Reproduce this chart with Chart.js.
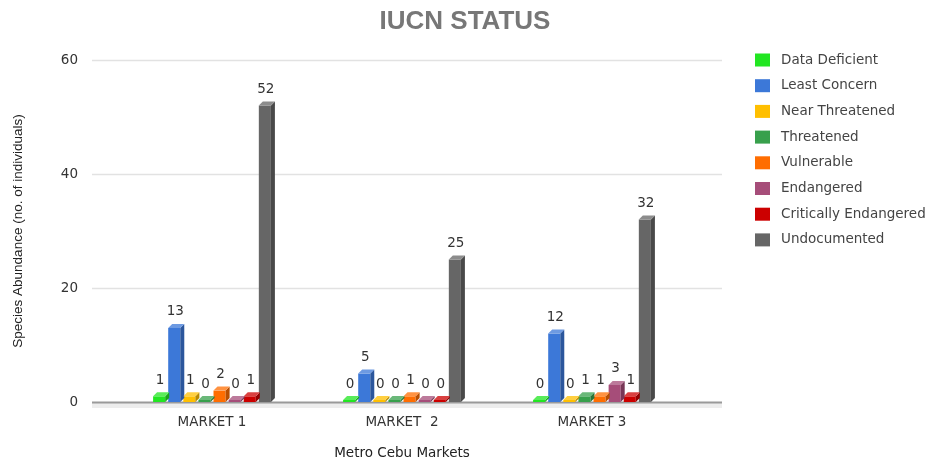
<!DOCTYPE html>
<html lang="en">
<head>
    <meta charset="UTF-8">
    <title>IUCN Status</title>
    <script src="https://cdn.jsdelivr.net/npm/chart.js"></script>
    <style>
        html, body { margin: 0; padding: 0; background: #fff; }
        #chart-container { width: 930px; height: 462px; }
    </style>
</head>
<body>
    <div id="chart-container">
        <canvas id="iucnChart"></canvas>
    </div>

    <script>
        // Data
        const markets = ['MARKET 1', 'MARKET  2', 'MARKET 3'];
        const statuses = ['Data Deficient', 'Least Concern', 'Near Threatened', 'Threatened',
                          'Vulnerable', 'Endangered', 'Critically Endangered', 'Undocumented'];
        const dataDeficient = [1, 0, 0];
        const leastConcern = [13, 5, 12];
        const nearThreatened = [1, 0, 0];
        const threatened = [0, 0, 1];
        const vulnerable = [2, 1, 1];
        const endangered = [0, 0, 3];
        const criticallyEndangered = [1, 0, 1];
        const undocumented = [52, 25, 32];
        const yTicks = [0, 20, 40, 60];

        const series = [dataDeficient, leastConcern, nearThreatened, threatened,
                        vulnerable, endangered, criticallyEndangered, undocumented];
        const colors = ['#22e622', '#3c78d8', '#ffbf00', '#38a04c',
                        '#ff6d01', '#a64d79', '#cc0000', '#666666'];

        const FONT = '"DejaVu Sans", sans-serif';
        const DEPTH = 4;

        function shade(hex, f) {
            const n = parseInt(hex.slice(1), 16);
            let r = (n >> 16) & 255, g = (n >> 8) & 255, b = n & 255;
            if (f < 1) { r *= f; g *= f; b *= f; }
            else { r += (255 - r) * (f - 1); g += (255 - g) * (f - 1); b += (255 - b) * (f - 1); }
            return 'rgb(' + Math.round(r) + ',' + Math.round(g) + ',' + Math.round(b) + ')';
        }

        // gridlines a bit wider than the plot, plus the grey floor
        const gridPlugin = {
            id: 'grid',
            beforeDatasetsDraw(chart) {
                const ctx = chart.ctx;
                const y = chart.scales.y;
                const left = chart.chartArea.left - 25;
                const right = chart.chartArea.right + 35;
                ctx.save();
                const zero = y.getPixelForValue(0);
                ctx.fillStyle = '#ededed';
                ctx.fillRect(left, zero, right - left, 6);
                yTicks.forEach(v => {
                    const py = Math.round(y.getPixelForValue(v)) + 0.5;
                    ctx.beginPath();
                    ctx.moveTo(left, py);
                    ctx.lineTo(right, py);
                    ctx.lineWidth = v === 0 ? 2 : 1.5;
                    ctx.strokeStyle = v === 0 ? '#9a9a9a' : '#e2e2e2';
                    ctx.stroke();
                });
                ctx.restore();
            }
        };

        // side and top faces, then value labels
        const bar3dPlugin = {
            id: 'bar3d',
            afterDatasetsDraw(chart) {
                const ctx = chart.ctx;
                ctx.save();
                chart.data.datasets.forEach((ds, i) => {
                    const meta = chart.getDatasetMeta(i);
                    meta.data.forEach((bar, j) => {
                        const p = bar.getProps(['x', 'y', 'base', 'width'], true);
                        const l = p.x - p.width / 2, r = p.x + p.width / 2;
                        const top = Math.min(p.y, p.base), bottom = Math.max(p.y, p.base);
                        ctx.fillStyle = shade(ds.backgroundColor, 0.72);
                        ctx.beginPath();
                        ctx.moveTo(r, top);
                        ctx.lineTo(r + DEPTH, top - DEPTH);
                        ctx.lineTo(r + DEPTH, bottom - DEPTH);
                        ctx.lineTo(r, bottom);
                        ctx.closePath();
                        ctx.fill();
                        ctx.fillStyle = shade(ds.backgroundColor, 1.25);
                        ctx.beginPath();
                        ctx.moveTo(l, top);
                        ctx.lineTo(l + DEPTH, top - DEPTH);
                        ctx.lineTo(r + DEPTH, top - DEPTH);
                        ctx.lineTo(r, top);
                        ctx.closePath();
                        ctx.fill();

                        ctx.fillStyle = '#333';
                        ctx.font = '13.5px ' + FONT;
                        ctx.textAlign = 'center';
                        ctx.textBaseline = 'middle';
                        ctx.fillText(String(ds.data[j]), p.x + 1, top - 16);
                    });
                });
                ctx.restore();
            }
        };

        // legend placed like the original, to the right of the plot
        const legendPlugin = {
            id: 'sideLegend',
            afterDraw(chart) {
                const ctx = chart.ctx;
                ctx.save();
                ctx.font = '13.5px ' + FONT;
                ctx.textBaseline = 'middle';
                ctx.textAlign = 'left';
                chart.data.datasets.forEach((ds, i) => {
                    const cy = 60 + i * 25.7;
                    ctx.fillStyle = ds.backgroundColor;
                    ctx.fillRect(755, cy - 6.5, 15, 13);
                    ctx.fillStyle = '#444';
                    ctx.fillText(ds.label, 781, cy);
                });
                ctx.restore();
            }
        };

        const ctx = document.getElementById('iucnChart').getContext('2d');
        new Chart(ctx, {
            type: 'bar',
            data: {
                labels: markets,
                datasets: statuses.map((s, i) => ({
                    label: s,
                    data: series[i],
                    backgroundColor: colors[i],
                    borderWidth: 0,
                    minBarLength: 2,
                    categoryPercentage: 0.636,
                    barPercentage: 0.8
                }))
            },
            options: {
                responsive: true,
                maintainAspectRatio: false,
                animation: false,
                plugins: {
                    legend: { display: false },
                    tooltip: { enabled: false },
                    title: {
                        display: true,
                        text: 'IUCN STATUS',
                        color: '#777',
                        font: { family: '"Liberation Sans", Arial, sans-serif', size: 26, weight: 'bold' },
                        padding: { top: 6, bottom: 22.8 }
                    }
                },
                scales: {
                    x: {
                        grid: { display: false, drawTicks: false },
                        border: { display: false },
                        ticks: { color: '#333', font: { family: FONT, size: 13.5 }, padding: 12 },
                        title: {
                            display: true,
                            text: 'Metro Cebu Markets',
                            color: '#222',
                            font: { family: FONT, size: 13.5 },
                            padding: { top: 0, bottom: 0 }
                        },
                        afterFit(scale) { scale.height = 60; }
                    },
                    y: {
                        min: 0,
                        max: 60,
                        grid: { display: false, drawTicks: false },
                        border: { display: false },
                        ticks: { stepSize: 20, color: '#333', font: { family: FONT, size: 13.5 }, padding: 39 },
                        title: {
                            display: true,
                            text: 'Species Abundance (no. of individuals)',
                            color: '#222',
                            font: { family: '"Liberation Sans", Arial, sans-serif', size: 13.5 },
                            padding: { top: 10, bottom: 0 }
                        },
                        afterFit(scale) { scale.width = 117; }
                    },
                    // empty right-hand axis that reserves the room the legend sits in
                    side: {
                        type: 'linear',
                        position: 'right',
                        grid: { display: false, drawTicks: false },
                        border: { display: false },
                        ticks: { display: false },
                        afterFit(scale) { scale.width = 243; }
                    }
                }
            },
            plugins: [gridPlugin, bar3dPlugin, legendPlugin]
        });
    </script>
</body>
</html>
